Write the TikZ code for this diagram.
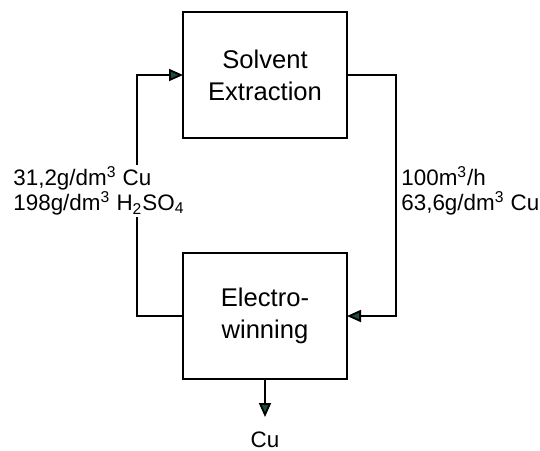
\documentclass[tikz,border=0pt]{standalone}
\usepackage{fontspec}
\setmainfont{Liberation Sans}
\usepackage{xcolor}
\usepackage{tikz}
\usetikzlibrary{arrows.meta, positioning}

\definecolor{tipteal}{HTML}{1F4A42}

\begin{document}
\begin{tikzpicture}[
    x=0.5pt, y=-0.5pt,
    node distance=57.5pt,
    box/.style={
        rectangle, draw=black, line width=0.9pt,
        minimum width=82pt, minimum height=63pt, outer sep=0pt,
        align=center, font=\fontsize{12.8}{16}\selectfont
    },
    arrow/.style={-{Triangle[length=7pt, width=6pt, fill=tipteal]}, line width=0.9pt},
    lbl/.style={font=\fontsize{11.2}{12.5}\selectfont, align=left, inner sep=1pt}
]
    \useasboundingbox (0,0) rectangle (540,450);

    \node[box] (sx) at (265,75) {Solvent\\Extraction};
    \node[box, below=of sx] (ew) {Electro-\\winning};
    \node[lbl, below=26.5pt of ew, inner sep=0pt, outer sep=0pt, anchor=north] (cu) {Cu};

    % recycle loop
    \draw[arrow] (ew.west) -- ++(-46,0) |- (sx.west);
    \draw[arrow] (sx.east) -- ++(49,0) |- (ew.east);
    \draw[arrow, shorten >=7.5pt] (ew.south) -- (cu.north);

    \node[lbl, fill=white, anchor=west] (leanlbl) at (11,191)
        {31,2g/dm\textsuperscript{3} Cu\\198g/dm\textsuperscript{3} H\textsubscript{2}SO\textsubscript{4}};
    \node[lbl, anchor=west] (richlbl) at (399,191)
        {100m\textsuperscript{3}/h\\63,6g/dm\textsuperscript{3} Cu};
\end{tikzpicture}
\end{document}
